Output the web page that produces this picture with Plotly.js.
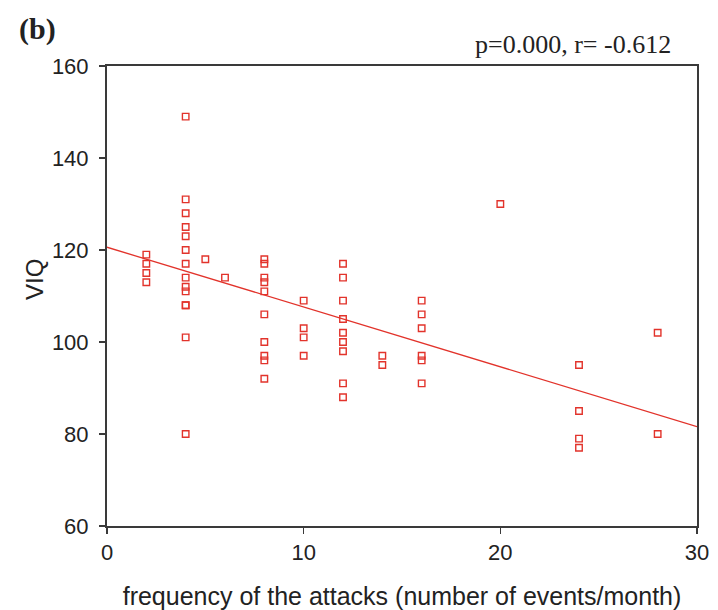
<!DOCTYPE html>
<html>
<head>
<meta charset="utf-8">
<script src="https://cdn.plot.ly/plotly-3.0.1.min.js"></script>
<style>html,body{margin:0;padding:0;background:#fff;}#chart{width:718px;height:610px;}</style>
</head>
<body>
<div id="chart"></div>
<script>
// frequency of attacks (events/month)
const freq = [
  2, 2, 2, 2,
  4, 4, 4, 4, 4, 4, 4, 4, 4, 4, 4, 4, 4, 4,
  5, 6,
  8, 8, 8, 8, 8, 8, 8, 8, 8, 8,
  10, 10, 10, 10,
  12, 12, 12, 12, 12, 12, 12, 12, 12,
  14, 14,
  16, 16, 16, 16, 16, 16,
  20,
  24, 24, 24, 24,
  28, 28
];
// VIQ values
const viq = [
  119, 117, 115, 113,
  149, 131, 128, 125, 123, 120, 117, 114, 112, 111, 108, 108, 101, 80,
  118, 114,
  118, 117, 114, 113, 111, 106, 100, 97, 96, 92,
  109, 103, 101, 97,
  117, 114, 109, 105, 102, 100, 98, 91, 88,
  97, 95,
  109, 106, 103, 97, 96, 91,
  130,
  95, 85, 79, 77,
  102, 80
];
// regression line endpoints
const fitX = [0, 30];
const fitY = [120.6, 81.6];

const xTicks = [0, 10, 20, 30];
const yTicks = [60, 80, 100, 120, 140, 160];

const red = '#e2332b';
const axisColor = '#3a3a3a';
const textColor = '#222';
const sans = 'Liberation Sans, Arial, sans-serif';
const serif = 'Liberation Serif, Times New Roman, serif';

const data = [
  {
    x: fitX, y: fitY, type: 'scatter', mode: 'lines',
    line: {color: red, width: 1.3}, hoverinfo: 'skip', showlegend: false
  },
  {
    x: freq, y: viq, type: 'scatter', mode: 'markers',
    marker: {symbol: 'square-open', size: 6.5, color: red, line: {color: red, width: 1.4}},
    showlegend: false
  }
];

const layout = {
  width: 718, height: 610,
  margin: {l: 107, r: 21, t: 66, b: 84},
  paper_bgcolor: '#fff', plot_bgcolor: '#fff',
  font: {family: sans, size: 22, color: textColor},
  xaxis: {
    range: [0, 30], tickvals: xTicks, ticktext: xTicks.map(String),
    showgrid: false, zeroline: false,
    showline: true, linecolor: axisColor, linewidth: 2, mirror: true,
    ticks: 'outside', ticklen: 6, tickwidth: 1.5, tickcolor: axisColor,
    tickfont: {family: sans, size: 22, color: textColor},
    title: {text: 'frequency of the attacks (number of events/month)', font: {family: sans, size: 25, color: textColor}, standoff: 24}
  },
  yaxis: {
    range: [60, 160], tickvals: yTicks, ticktext: yTicks.map(String),
    showgrid: false, zeroline: false,
    showline: true, linecolor: axisColor, linewidth: 2, mirror: true,
    ticks: 'outside', ticklen: 6, tickwidth: 1.5, tickcolor: axisColor,
    ticklabelstandoff: 6,
    tickfont: {family: sans, size: 22, color: textColor}
  },
  annotations: [
    {
      text: 'VIQ', xref: 'paper', yref: 'paper', x: -0.122, y: 0.535,
      xanchor: 'center', yanchor: 'middle', textangle: -90, showarrow: false,
      font: {family: sans, size: 24, color: textColor}
    },
    {
      text: '<b>(b)</b>', xref: 'paper', yref: 'paper', x: -0.1186, y: 1.080,
      xanchor: 'center', yanchor: 'middle', showarrow: false,
      font: {family: serif, size: 30, color: textColor}
    },
    {
      text: 'p=0.000, r= -0.612', xref: 'paper', yref: 'paper', x: 0.959, y: 1.01,
      xanchor: 'right', yanchor: 'bottom', showarrow: false,
      font: {family: serif, size: 26, color: textColor}
    }
  ]
};

Plotly.newPlot('chart', data, layout, {displayModeBar: false, staticPlot: true});
</script>
</body>
</html>
